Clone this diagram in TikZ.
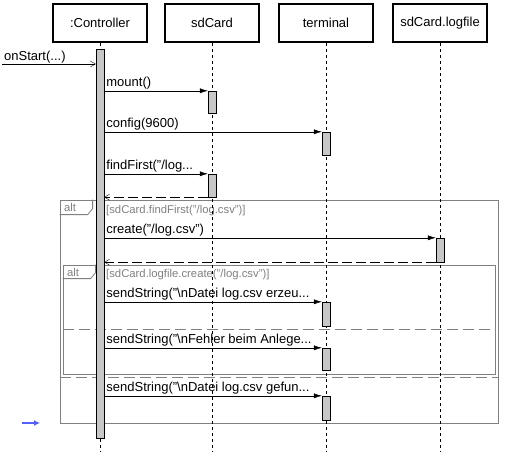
\documentclass[tikz,border=0pt]{standalone}
\usepackage{fontspec}
\setmainfont{Liberation Sans}
\usetikzlibrary{arrows.meta}
\definecolor{marker}{RGB}{85,95,250}

\tikzset{
	head/.style={shape=rectangle,draw,line width=1.5pt,minimum width=94pt,minimum height=38pt,font=\fontsize{13}{15}\selectfont},
	act/.style={shape=rectangle,draw,fill=black!22,minimum width=8pt,inner sep=0pt},
	life/.style={dash pattern=on 3pt off 3pt},
	call/.style={-{Latex[length=8pt,width=5pt]}},
	ret/.style={dash pattern=on 10pt off 4pt,-{Straight Barb[length=5pt,width=6pt]}},
	msg/.style={anchor=south west,inner sep=1pt,xshift=1pt,font=\fontsize{13}{15}\selectfont},
	frame/.style={shape=rectangle,draw=black!50,line width=0.8pt,inner sep=0pt},
	guard/.style={anchor=west,inner sep=0pt,text=black!50,font=\fontsize{11.3}{13}\selectfont},
	sep/.style={draw=black!50,line width=0.8pt,dash pattern=on 11pt off 5pt}
}

\begin{document}
\begin{tikzpicture}[x=1pt,y=-1pt]
	\useasboundingbox (0,0) rectangle (512,464);
	\node[head](a) at (100,23) {:Controller};
	\node[head](b) at (212,23) {sdCard};
	\node[head](c) at (326,23) {terminal};
	\node[head](d) at (440,23) {sdCard.logfile};
	\node[frame,minimum width=438pt,minimum height=223pt](m) at (279,311.5) {};
	\node[frame,minimum width=432pt,minimum height=109pt](n) at (279,319.5) {};
	\draw[black!50,line width=0.8pt] (m.north west) ++(0,15) -- ++(28,0) -- ++(5,-6) -- ++(0,-9);
	\draw[black!50,line width=0.8pt] (n.north west) ++(0,14) -- ++(28,0) -- ++(5,-6) -- ++(0,-8);
	\node[guard](o) at (64,207) {alt};
	\node[guard](p) at (67,272) {alt};
	\node[guard](q) at (106,211) {[sdCard.findFirst("/log.csv")]};
	\node[guard](r) at (106,275) {[sdCard.logfile.create("/log.csv")]};
	\draw[sep] (n.west |- 0,329) -- (n.east |- 0,329);
	\draw[sep] (m.west |- 0,377) -- (m.east |- 0,377);
	\draw[life] (a.south) -- (a.south |- 0,452);
	\draw[life] (b.south) -- (b.south |- 0,452);
	\draw[life] (c.south) -- (c.south |- 0,452);
	\draw[life] (d.south) -- (d.south |- 0,452);
	\node[act,minimum height=389pt](e) at (100,243.5) {};
	\node[act,minimum height=22pt](f) at (212,102) {};
	\node[act,minimum height=23pt](g) at (212,185.5) {};
	\node[act,minimum height=23pt](h) at (326,143.5) {};
	\node[act,minimum height=24pt](i) at (326,314) {};
	\node[act,minimum height=22pt](j) at (326,359) {};
	\node[act,minimum height=24pt](k) at (326,408) {};
	\node[act,minimum height=24pt](l) at (440,250) {};
	\coordinate (s) at (2,64);
	\draw[-{Straight Barb[length=5pt,width=6pt]}] (s) -- node[msg,pos=0]{onStart(...)} (e.west |- s);
	\draw[call] (e.east |- f.north) -- node[msg,pos=0]{mount()} (f.north west);
	\draw[call] (e.east |- h.north) -- node[msg,pos=0]{config(9600)} (h.north west);
	\draw[call] (e.east |- g.north) -- node[msg,pos=0]{findFirst("/log...} (g.north west);
	\draw[ret] (g.south west) -- (e.east |- g.south west);
	\draw[call] (e.east |- l.north) -- node[msg,pos=0]{create("/log.csv")} (l.north west);
	\draw[ret] (l.south west) -- (e.east |- l.south west);
	\draw[call] (e.east |- i.north) -- node[msg,pos=0]{sendString("\textbackslash nDatei log.csv erzeu...} (i.north west);
	\draw[call] (e.east |- j.north) -- node[msg,pos=0]{sendString("\textbackslash nFehler beim Anlege...} (j.north west);
	\draw[call] (e.east |- k.north) -- node[msg,pos=0]{sendString("\textbackslash nDatei log.csv gefun...} (k.north west);
	\coordinate (t) at (22,423);
	\coordinate (u) at (40,423);
	\draw[marker,line width=2pt,-{Latex[length=6pt,width=6pt]}] (t) -- (u);
\end{tikzpicture}
\end{document}
